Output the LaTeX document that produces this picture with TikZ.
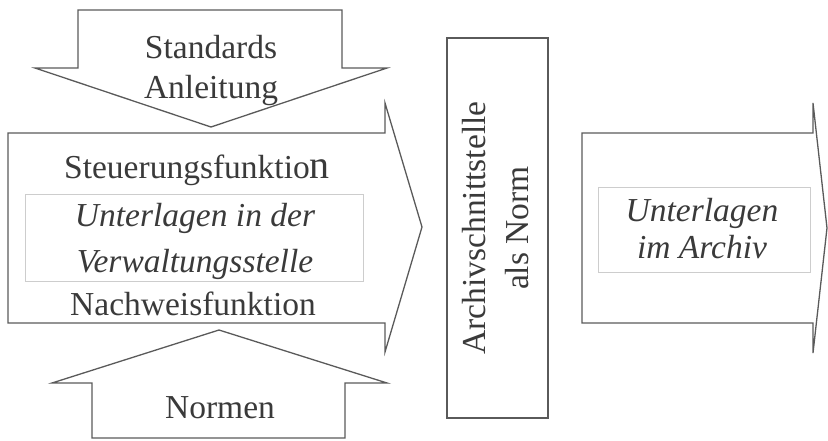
\documentclass[tikz,border=0pt]{standalone}
\usepackage{fontspec}
\setmainfont{Liberation Serif}
\definecolor{edge}{HTML}{5A5A5A}
\definecolor{innerline}{HTML}{CDCDCD}
\definecolor{ink}{HTML}{3A3A3A}
\tikzset{
  shape outline/.style={draw=edge, line width=1.3pt, line join=miter},
  inner frame/.style={draw=innerline, line width=1pt},
  label text/.style={text=ink, inner sep=0pt, align=center,
    font=\fontsize{33.5}{40}\selectfont},
  label italic/.style={label text, font=\fontsize{33.5}{46}\selectfont\itshape},
}
\begin{document}
\begin{tikzpicture}[x=1pt, y=-1pt]
  \useasboundingbox (0,0) rectangle (828,440);

  % downward arrow: standards and guidance
  \draw[shape outline] (78,10) -- (342,10) -- (342,68) -- (387,68)
    -- (211,127) -- (35,68) -- (78,68) -- cycle;

  % main arrow: records at the administrative office
  \draw[shape outline] (8,133) -- (385,133) -- (385,103) -- (422,227)
    -- (385,352) -- (385,323) -- (8,323) -- cycle;
  \draw[inner frame] (25,194) rectangle (363,281);

  % upward arrow: norms
  \draw[shape outline] (219,330) -- (387,383) -- (345,383) -- (345,438)
    -- (92,438) -- (92,383) -- (52,383) -- cycle;

  % archive interface
  \draw[shape outline] (447,38) rectangle (548,418);

  % right arrow: records in the archive
  \draw[shape outline] (582,133) -- (813,133) -- (813,103) -- (827,228)
    -- (813,353) -- (813,323) -- (582,323) -- cycle;
  \draw[inner frame] (598,187) rectangle (810,272);

  % texts
  \node[label text] (std) at (211,70) {Standards\\Anleitung};
  \node[label text, anchor=base] (steu) at (197,178)
    {Steuerungsfunktio{\fontsize{40}{40}\selectfont n}};
  \node[label italic] (unter) at (195,241) {Unterlagen in der\\Verwaltungsstelle};
  \node[label text, anchor=base] (nach) at (193,315) {Nachweisfunktion};
  \node[label text, anchor=base] (norm) at (220,418) {Normen};
  \node[label text, rotate=90, font=\fontsize{33.5}{43}\selectfont] (schnitt) at (496,228)
    {Archivschnittstelle\\als Norm};
  \node[label italic, font=\fontsize{33.5}{37}\selectfont\itshape] (archiv) at (702,229)
    {Unterlagen\\im Archiv};
\end{tikzpicture}
\end{document}
